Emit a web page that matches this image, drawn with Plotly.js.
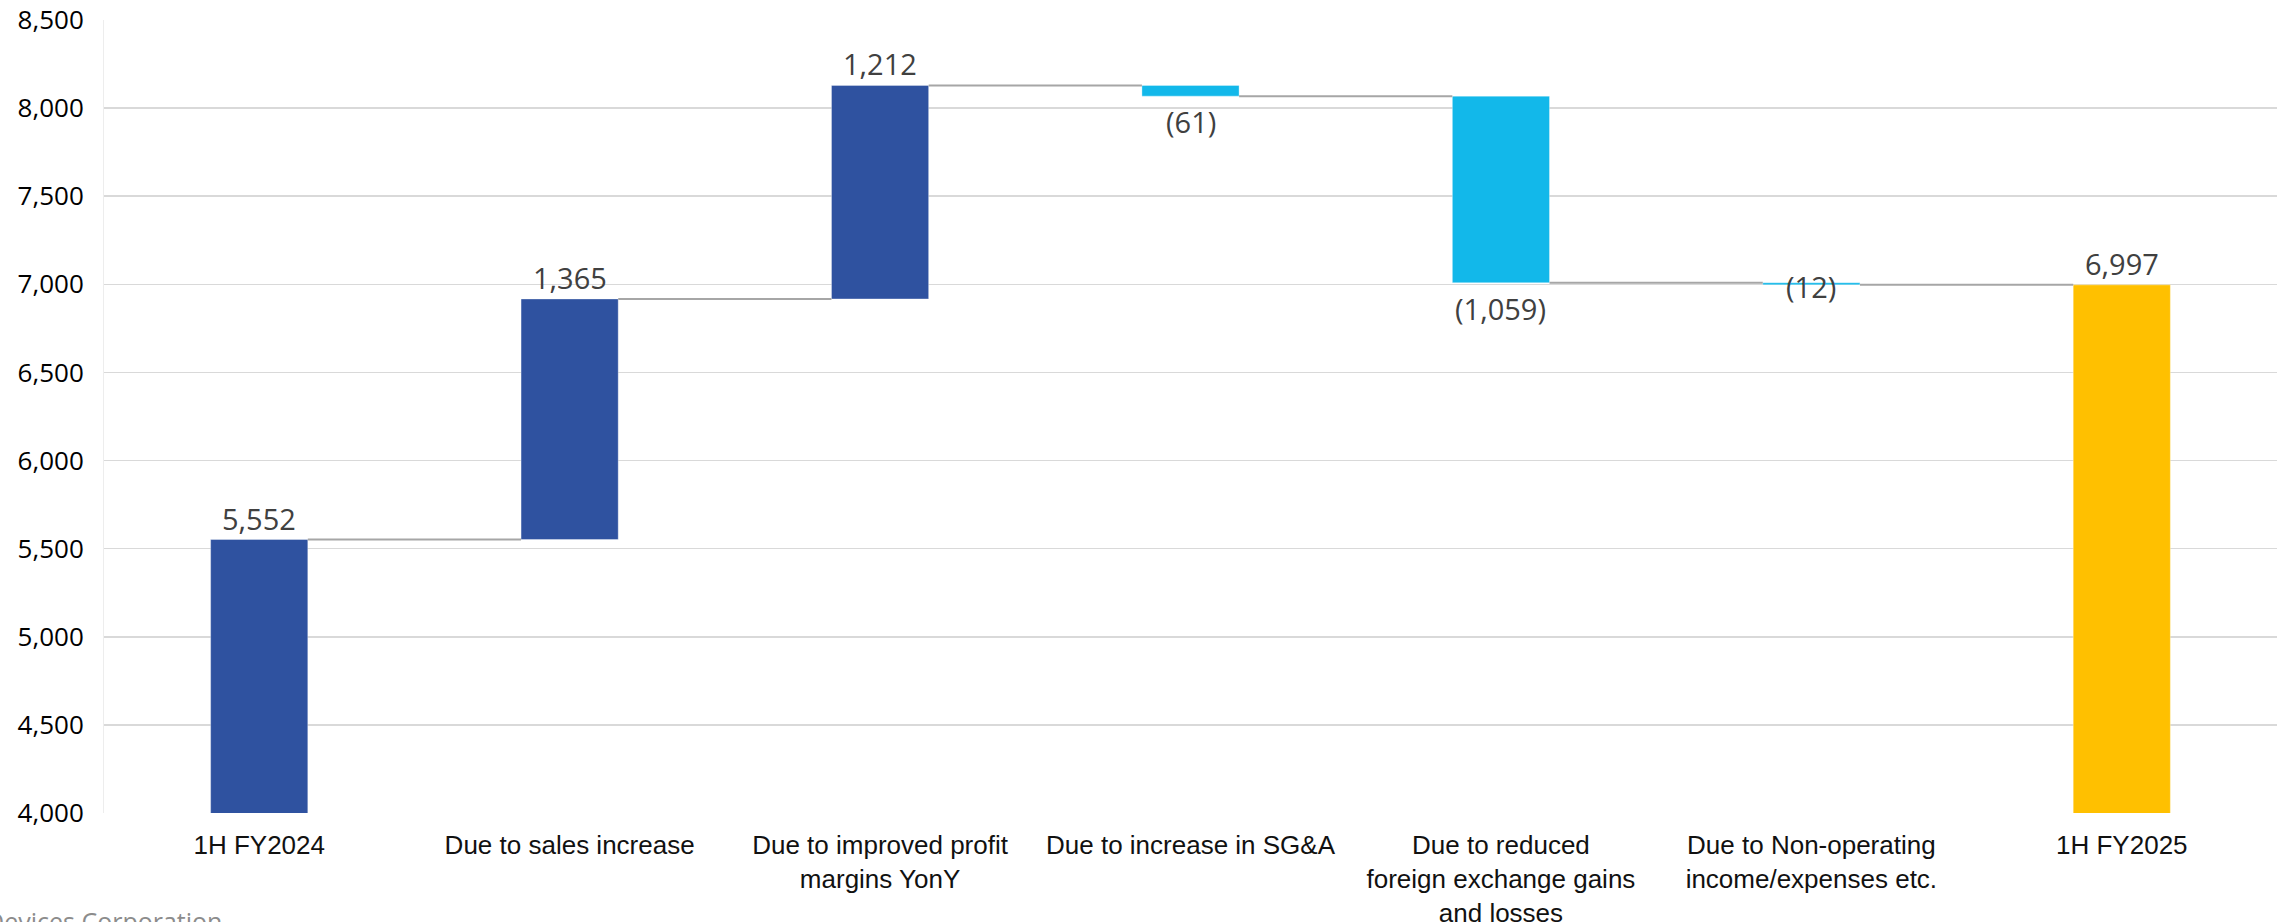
<!DOCTYPE html>
<html>
<head>
<meta charset="utf-8">
<script src="https://cdn.plot.ly/plotly-3.0.1.min.js"></script>
<style>
  html, body { margin: 0; padding: 0; background: #ffffff; }
  #chart { width: 2285px; height: 922px; }
</style>
</head>
<body>
<div id="chart"></div>
<script>
// ---- Data ----
const categories = [
  "1H FY2024",
  "Due to sales increase",
  "Due to improved profit<br>margins YonY",
  "Due to increase in SG&A",
  "Due to reduced<br>foreign exchange gains<br>and losses",
  "Due to Non-operating<br>income/expenses etc.",
  "1H FY2025"
];
const measures = ["absolute", "relative", "relative", "relative", "relative", "relative", "total"];
const values = [5552, 1365, 1212, -61, -1059, -12, 6997];
const labelTexts = ["5,552", "1,365", "1,212", "(61)", "(1,059)", "(12)", "6,997"];
const yTicks = [4000, 4500, 5000, 5500, 6000, 6500, 7000, 7500, 8000, 8500];

// ---- Styles ----
const COLOR_START = "#2F52A0";
const COLOR_UP = "#2F52A0";
const COLOR_DOWN = "#12B8EA";
const COLOR_TOTAL = "#FFC000";
const BAR_W = 0.313;

// ---- Compute waterfall bases ----
const xs = categories.map((_, i) => i);
const bases = [], heights = [], colors = [], levels = [];
let running = 0;
values.forEach((v, i) => {
  const m = measures[i];
  if (m === "absolute") {
    bases.push(0); heights.push(v); running = v; colors.push(COLOR_START);
  } else if (m === "total") {
    bases.push(0); heights.push(running); colors.push(COLOR_TOTAL);
  } else {
    if (v >= 0) { bases.push(running); heights.push(v); colors.push(COLOR_UP); }
    else { bases.push(running + v); heights.push(-v); colors.push(COLOR_DOWN); }
    running += v;
  }
  levels.push(running);
});

const barTrace = {
  type: "bar",
  x: xs,
  y: heights,
  base: bases,
  width: BAR_W,
  marker: { color: colors, line: { color: "rgba(255,255,255,0.35)", width: 1 } },
  hoverinfo: "skip",
  showlegend: false
};

// connectors
const cx = [], cy = [];
for (let i = 0; i < xs.length - 1; i++) {
  cx.push(xs[i] + BAR_W / 2, xs[i + 1] - BAR_W / 2, null);
  cy.push(levels[i], levels[i], null);
}
const connTrace = {
  type: "scatter",
  mode: "lines",
  x: cx,
  y: cy,
  line: { color: "#A6A6A6", width: 2 },
  hoverinfo: "skip",
  showlegend: false
};

// data labels
const annotations = [];
values.forEach((v, i) => {
  const top = bases[i] + heights[i];
  const bottom = bases[i];
  const isNeg = measures[i] === "relative" && v < 0;
  let ann;
  if (isNeg && Math.abs(v) < 30) {
    ann = { y: (top + bottom) / 2, yanchor: "middle", yshift: -3 };
  } else if (isNeg) {
    ann = { y: bottom, yanchor: "top", yshift: -4 };
  } else {
    ann = { y: top, yanchor: "bottom", yshift: 0 };
  }
  annotations.push(Object.assign({
    x: xs[i], xref: "x", yref: "y", xanchor: "center",
    text: labelTexts[i], showarrow: false,
    font: { family: "Open Sans, Noto Sans, sans-serif", size: 29, color: "#404040" }
  }, ann));
});

// footer (cut off at the page edge, as in the reference)
annotations.push({
  xref: "paper", yref: "paper", x: 0, y: 0, xanchor: "left", yanchor: "top",
  xshift: -120, yshift: -89,
  text: "Devices Corporation", showarrow: false,
  font: { family: "Open Sans, Noto Sans, sans-serif", size: 25, color: "#8C8C8C" }
});

const layout = {
  width: 2285, height: 922,
  margin: { l: 104, r: 8, t: 20, b: 109 },
  paper_bgcolor: "#ffffff",
  plot_bgcolor: "#ffffff",
  showlegend: false,
  barmode: "overlay",
  xaxis: {
    type: "linear",
    range: [-0.5, 6.5],
    tickvals: xs,
    ticktext: categories,
    showgrid: false,
    zeroline: false,
    showline: false,
    ticks: "",
    ticklabelstandoff: 14,
    tickfont: { family: "Liberation Sans, Arial, sans-serif", size: 26, color: "#111111" },
    automargin: false,
    fixedrange: true
  },
  yaxis: {
    range: [4000, 8500],
    tickvals: yTicks,
    tickformat: ",d",
    showgrid: true,
    gridcolor: "#D9D9D9",
    gridwidth: 1.5,
    zeroline: false,
    showline: true,
    linecolor: "#EDEDED",
    linewidth: 1,
    ticks: "",
    ticklabelstandoff: 14,
    tickfont: { family: "Open Sans, Noto Sans, sans-serif", size: 26, color: "#000000" },
    automargin: false,
    fixedrange: true
  },
  annotations: annotations
};

Plotly.newPlot("chart", [barTrace, connTrace], layout, { displayModeBar: false, staticPlot: true });
</script>
</body>
</html>
